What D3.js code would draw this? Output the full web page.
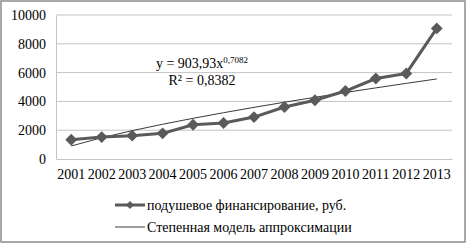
<!DOCTYPE html>
<html>
<head>
<meta charset="utf-8">
<script src="https://cdn.jsdelivr.net/npm/d3@7"></script>
<style>
  body { margin: 0; background: #fff; }
</style>
</head>
<body>
<svg id="drawing_region"></svg>
<script>
const years = ['2001','2002','2003','2004','2005','2006','2007','2008','2009','2010','2011','2012','2013'];
const funding = [1340, 1520, 1620, 1780, 2380, 2500, 2910, 3610, 4080, 4720, 5590, 5940, 9070];
// power trend y = 903,93x^0,7082 at x = 1..13
const trend = [904, 1477, 1968, 2413, 2826, 3215, 3587, 3942, 4284, 4617, 4939, 5253, 5559];
const yTicks = [0, 2000, 4000, 6000, 8000, 10000];
const seriesName = 'подушевое финансирование, руб.';
const trendName = 'Степенная модель аппроксимации';

const FONT = "'Liberation Serif', 'Times New Roman', 'DejaVu Serif', serif";
const width = 467, height = 245;
const margin = {top: 15, right: 15, bottom: 86, left: 56};
const inner_width = width - margin.left - margin.right;
const inner_height = height - margin.top - margin.bottom;

const svg = d3.select('#drawing_region')
    .attr('width', width)
    .attr('height', height)
    .attr('font-family', FONT);

svg.append('rect')
    .attr('x', 1).attr('y', 1)
    .attr('width', width - 3).attr('height', height - 4)
    .attr('fill', '#fff')
    .attr('stroke', '#8c8c8c')
    .attr('stroke-width', 1.5);

const chart = svg.append('g')
    .attr('transform', `translate(${margin.left}, ${margin.top})`);

const xscale = d3.scaleBand().domain(years).range([0, inner_width]);
const yscale = d3.scaleLinear().domain([0, 10000]).range([inner_height, 0]);

// grid
chart.append('g')
    .selectAll('line')
    .data(yTicks.filter(d => d > 0))
    .join('line')
    .attr('x1', 0).attr('x2', inner_width)
    .attr('y1', d => yscale(d)).attr('y2', d => yscale(d))
    .attr('stroke', '#c4c4c4').attr('stroke-width', 1);

const yaxis = d3.axisLeft(yscale).tickValues(yTicks).tickSize(0).tickPadding(10).tickFormat(d3.format('d'));
const yg = chart.append('g').call(yaxis).attr('font-family', FONT);
yg.select('.domain').attr('stroke', '#c4c4c4');
yg.selectAll('text').style('font-size', '14px').attr('fill', '#000');

const xaxis = d3.axisBottom(xscale).tickSize(0).tickPadding(10).tickSizeOuter(0);
const xg = chart.append('g')
    .attr('transform', `translate(0, ${inner_height})`)
    .call(xaxis)
    .attr('font-family', FONT);
xg.select('.domain').attr('stroke', '#c4c4c4');
xg.selectAll('text').style('font-size', '14px').attr('fill', '#000');

const cx = (d, i) => xscale(years[i]) + xscale.bandwidth() / 2;

// trend line
chart.append('path')
    .attr('d', d3.line().x(cx).y(d => yscale(d))(trend))
    .attr('fill', 'none')
    .attr('stroke', '#3a3a3a')
    .attr('stroke-width', 1);

// series
chart.append('path')
    .attr('d', d3.line().x(cx).y(d => yscale(d))(funding))
    .attr('fill', 'none')
    .attr('stroke', '#5a5a5a')
    .attr('stroke-width', 3)
    .attr('stroke-linejoin', 'round');

const diamond = d3.symbol().type(d3.symbolDiamond2).size(90);
chart.selectAll('path.marker')
    .data(funding)
    .join('path')
    .attr('class', 'marker')
    .attr('d', diamond)
    .attr('transform', (d, i) => `translate(${cx(d, i)}, ${yscale(d)})`)
    .attr('fill', '#5a5a5a');

// equation label
const eq = svg.append('text')
    .attr('x', 202).attr('y', 68)
    .attr('text-anchor', 'middle')
    .style('font-size', '14px');
eq.append('tspan').text('y = 903,93x');
eq.append('tspan').attr('dy', -5).style('font-size', '9px').text('0,7082');
svg.append('text')
    .attr('x', 202).attr('y', 85)
    .attr('text-anchor', 'middle')
    .style('font-size', '14px')
    .text('R² = 0,8382');

// legend
const legend = svg.append('g');
legend.append('line')
    .attr('x1', 115).attr('x2', 145).attr('y1', 205).attr('y2', 205)
    .attr('stroke', '#5a5a5a').attr('stroke-width', 3);
legend.append('path')
    .attr('d', d3.symbol().type(d3.symbolDiamond2).size(40))
    .attr('transform', 'translate(130, 205)')
    .attr('fill', '#5a5a5a');
legend.append('text')
    .attr('x', 147).attr('y', 210)
    .style('font-size', '14px')
    .text(seriesName);
legend.append('line')
    .attr('x1', 115).attr('x2', 145).attr('y1', 227).attr('y2', 227)
    .attr('stroke', '#3a3a3a').attr('stroke-width', 1);
legend.append('text')
    .attr('x', 147).attr('y', 232)
    .style('font-size', '14px')
    .text(trendName);
</script>
</body>
</html>
